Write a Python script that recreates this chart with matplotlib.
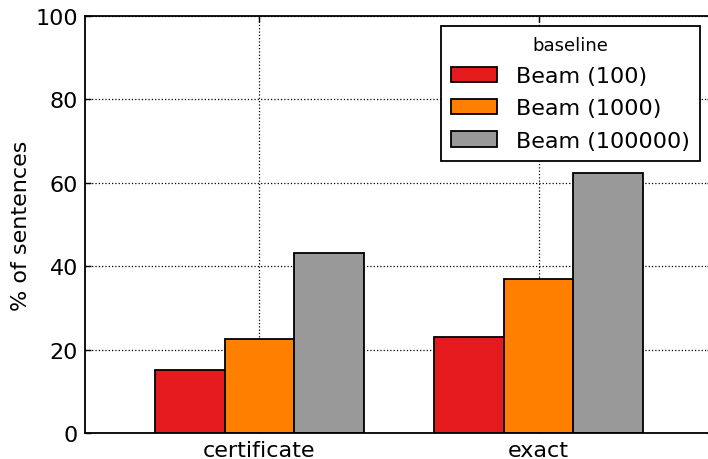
import matplotlib
matplotlib.use("Agg")
import matplotlib.pyplot as plt
import numpy as np

categories = ["certificate", "exact"]
series_names = ["Beam (100)", "Beam (1000)", "Beam (100000)"]
beam_100 = [15.2, 23.1]
beam_1000 = [22.5, 36.9]
beam_100000 = [43.2, 62.4]
y_ticks = [0, 20, 40, 60, 80, 100]

colors = ["#e41a1c", "#ff7f00", "#999999"]

plt.rcParams["font.family"] = ["DejaVu Sans"]

fig = plt.figure(figsize=(7.08, 4.60), dpi=100)
ax = fig.add_axes([85 / 708, 26 / 460, 628 / 708, 417 / 460])

x = np.arange(len(categories))
width = 0.25
for i, (vals, name, c) in enumerate(zip([beam_100, beam_1000, beam_100000], series_names, colors)):
    ax.bar(x + (i - 1) * width, vals, width, color=c, edgecolor="black",
           linewidth=1.3, label=name, zorder=2)

ax.set_xlim(-0.625, 1.625)
ax.set_ylim(0, 100)
ax.set_xticks(x)
ax.set_xticklabels(categories)
ax.set_yticks(y_ticks)
ax.set_ylabel("% of sentences", fontsize=16, labelpad=3)

ax.grid(True, linestyle=":", color="black", linewidth=0.9, zorder=0)
ax.set_axisbelow(True)
ax.tick_params(direction="in", length=4, width=1, labelsize=16,
               top=True, right=True, pad=5)
for s in ax.spines.values():
    s.set_linewidth(1.3)

leg = ax.legend(title="baseline", fontsize=16, title_fontsize=13,
                loc="upper right", bbox_to_anchor=(700 / 708, 1 - 27 / 460),
                bbox_transform=fig.transFigure, borderaxespad=0,
                fancybox=False, framealpha=1, edgecolor="black",
                handlelength=2.07, handleheight=0.68, handletextpad=0.86,
                labelspacing=0.55, borderpad=0.45)
leg.get_frame().set_linewidth(1.3)

fig.savefig("out.png", dpi=100, facecolor="white")
